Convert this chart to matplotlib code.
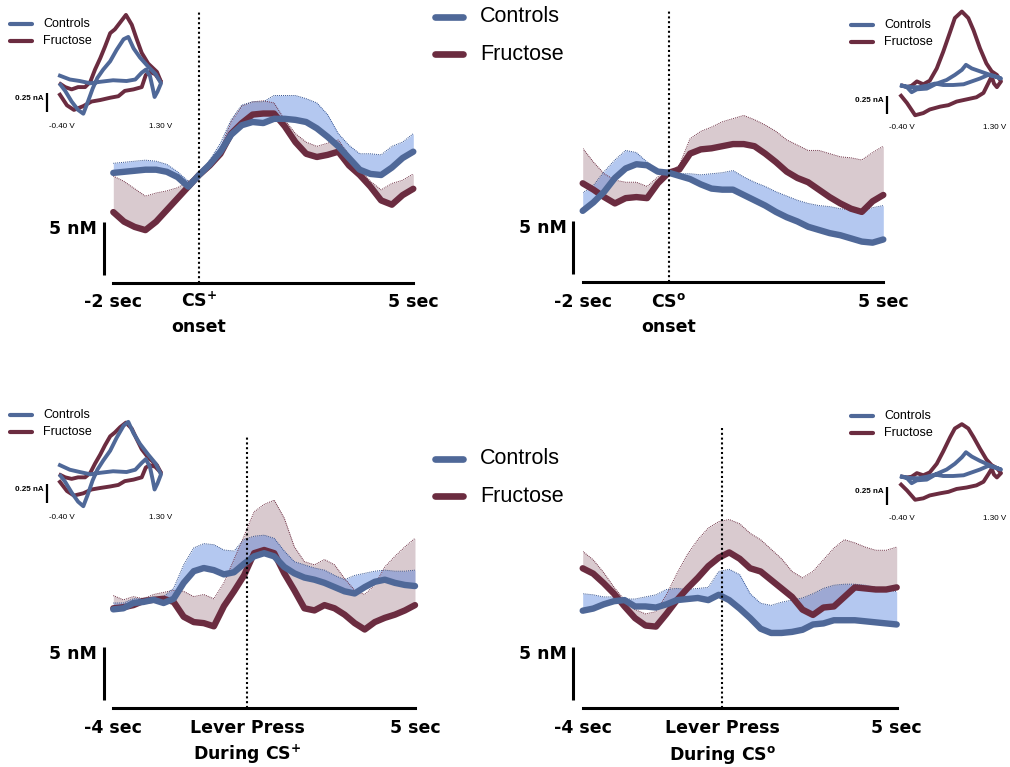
import numpy as np
import matplotlib
matplotlib.use('Agg')
import matplotlib.pyplot as plt
from matplotlib import transforms

# colours
BLUE = '#4F6898'
RED = '#6B2C40'
BLUE_FILL = '#4476DA'
BLUE_EDGE = '#2F4F8F'

# ---------------- data (nM, relative) ----------------
# CS+ onset, -2..5 s
t_top = np.arange(-2, 5.001, 0.25)
csp_ctl = [0.2, 0.3, 0.4, 0.5, 0.5, 0.3, -0.2, -1.1, 0.0, 1.0, 2.2, 3.8, 4.7, 5.0, 4.9,
           5.3, 5.3, 5.2, 5.0, 4.4, 3.6, 2.7, 1.6, 0.5, 0.1, 0.0, 0.7, 1.6, 2.2]
csp_ctl_hi = [1.1, 1.2, 1.3, 1.4, 1.3, 1.0, 0.3, -0.6, 0.0, 1.4, 3.0, 5.2, 6.6, 6.9, 6.9,
              7.5, 7.5, 7.5, 7.2, 6.8, 5.7, 3.9, 2.8, 2.0, 2.0, 1.9, 2.7, 3.1, 3.9]
csp_fru = [-3.5, -4.4, -4.9, -5.2, -4.4, -3.3, -2.2, -1.1, 0.0, 0.9, 2.0, 3.9, 4.9, 5.7, 5.8,
           5.8, 4.6, 3.1, 2.0, 1.7, 1.9, 2.2, 0.9, 0.0, -1.1, -2.4, -2.8, -1.9, -1.3]
csp_fru_hi = [-0.1, -0.6, -1.3, -2.0, -1.7, -1.5, -1.2, -0.6, 0.0, 1.1, 2.5, 5.0, 6.5, 6.9, 7.0,
              6.8, 5.2, 3.9, 3.1, 2.7, 3.0, 3.3, 1.9, 0.5, -0.6, -1.4, -0.8, -0.5, 0.1]

# CSo onset, -2..5 s
cso_ctl = [-3.6, -2.8, -1.8, -0.5, 0.4, 0.8, 0.7, 0.1, 0.0, -0.3, -0.6, -1.1, -1.5, -1.6, -1.6,
           -2.1, -2.6, -3.1, -3.7, -4.2, -4.6, -5.1, -5.4, -5.7, -5.9, -6.2, -6.5, -6.6, -6.3]
cso_ctl_hi = [-1.9, -1.2, 0.1, 1.2, 2.1, 1.9, 1.0, 0.3, 0.1, -0.1, -0.1, -0.2, -0.1, 0.0, 0.2,
              -0.4, -0.9, -1.3, -1.8, -2.2, -2.6, -2.9, -3.1, -3.2, -3.4, -3.5, -3.6, -3.3, -3.1]
cso_fru = [-1.0, -1.6, -2.3, -2.9, -2.4, -2.3, -2.4, -1.0, 0.0, 0.3, 1.8, 2.2, 2.3, 2.5, 2.7,
           2.7, 2.5, 1.8, 1.0, 0.1, -0.5, -0.9, -1.6, -2.3, -2.9, -3.4, -3.7, -2.7, -2.1]
cso_fru_hi = [2.3, 1.0, -0.1, -0.7, -0.9, -0.9, -1.3, -0.4, 0.0, 0.7, 3.2, 3.9, 4.3, 4.8, 5.1,
              5.4, 5.0, 4.5, 3.9, 3.1, 2.6, 2.1, 2.1, 1.8, 1.5, 1.4, 1.2, 1.9, 2.5]

# lever press during CS+, -4..5 s
t_bot = np.arange(-4, 5.001, 0.3)
lpp_ctl = [-0.1, 0.0, 0.5, 0.6, 0.8, 0.5, 0.9, 2.4, 3.5, 3.8, 3.6, 3.2, 3.4, 4.2, 4.9, 5.2,
           4.9, 3.9, 3.3, 2.9, 2.7, 2.4, 2.0, 1.6, 1.4, 2.0, 2.5, 2.7, 2.4, 2.2, 2.1]
lpp_ctl_hi = [0.5, 0.5, 0.9, 0.9, 0.9, 1.1, 1.9, 4.1, 5.7, 6.1, 6.0, 5.5, 5.4, 6.5, 6.8, 6.9,
              6.6, 5.4, 4.4, 4.1, 3.8, 3.6, 3.1, 2.7, 3.1, 3.3, 3.5, 3.6, 3.5, 3.5, 3.6]
lpp_fru = [0.0, 0.1, 0.3, 0.7, 0.8, 0.9, 0.6, -0.8, -1.3, -1.4, -1.7, 0.2, 1.6, 3.1, 5.2, 5.5,
           5.2, 3.3, 1.7, 0.0, -0.2, 0.3, 0.0, -0.6, -1.4, -2.0, -1.3, -0.9, -0.6, -0.2, 0.3]
lpp_fru_hi = [1.2, 0.8, 1.1, 0.9, 1.3, 1.5, 1.7, 1.6, 1.1, 1.3, 0.9, 2.4, 4.6, 6.8, 9.1, 9.8,
              10.2, 8.5, 5.8, 4.4, 4.1, 4.6, 4.1, 2.8, 1.7, 1.3, 2.2, 3.9, 4.9, 5.8, 6.6]

# lever press during CSo, -4..5 s
lpo_ctl = [0.0, 0.2, 0.6, 0.9, 1.0, 0.4, 0.4, 0.3, 0.6, 1.0, 1.1, 1.2, 1.0, 1.5, 1.0, 0.2,
           -0.7, -1.7, -2.1, -2.1, -2.0, -1.8, -1.3, -1.2, -0.9, -0.9, -0.9, -1.0, -1.1, -1.2, -1.3]
lpo_ctl_hi = [1.6, 1.5, 1.3, 1.3, 1.1, 1.1, 1.3, 1.5, 2.0, 2.1, 2.0, 2.1, 2.2, 3.7, 3.9, 3.4,
              1.6, 0.7, 0.5, 0.8, 1.0, 1.2, 1.6, 2.1, 2.4, 2.5, 2.5, 2.4, 2.2, 2.0, 1.8]
lpo_fru = [4.0, 3.5, 2.6, 1.6, 0.4, -0.7, -1.4, -1.5, -0.3, 1.0, 2.1, 3.1, 4.2, 5.0, 5.5, 4.9,
           4.0, 3.7, 2.9, 2.1, 1.3, 0.1, -0.4, 0.3, 0.4, 1.3, 2.2, 2.1, 2.0, 2.0, 2.2]
lpo_fru_hi = [5.6, 4.8, 3.6, 2.2, 1.0, 0.1, -0.3, -0.1, 1.5, 3.5, 5.3, 6.7, 7.8, 8.4, 8.6, 8.2,
              7.3, 6.7, 5.8, 4.9, 3.7, 3.1, 3.7, 4.8, 5.9, 6.7, 6.4, 6.0, 5.7, 5.7, 6.0]

# cyclic voltammograms (V, nA)
cv_tl_ctl_v = [-0.43, -0.26, -0.09, 0.09, 0.26, 0.48, 0.71, 0.86, 0.97, 1.04, 1.11, 1.16, 1.19, 1.24, 1.30, 1.21,
               1.08, 0.94, 0.83, 0.74, 0.66, 0.54, 0.43, 0.31, 0.21, 0.13, 0.04, -0.03, -0.12, -0.23, -0.34, -0.42]
cv_tl_ctl_i = [0.10, 0.05, 0.03, 0.00, 0.02, 0.04, 0.03, 0.05, 0.14, 0.18, 0.10, -0.07, -0.18, -0.11, 0.00, 0.12,
               0.22, 0.34, 0.46, 0.61, 0.58, 0.44, 0.29, 0.18, 0.07, -0.07, -0.26, -0.40, -0.35, -0.24, -0.10, -0.02]
cv_tl_fru_v = [-0.43, -0.31, -0.19, -0.03, 0.11, 0.26, 0.43, 0.57, 0.68, 0.83, 0.97, 1.04, 1.11, 1.20, 1.30, 1.23, 1.08,
               0.97, 0.88, 0.80, 0.70, 0.60, 0.51, 0.43, 0.34, 0.26, 0.17, 0.09, 0.00, -0.12, -0.23, -0.34, -0.42]
cv_tl_fru_i = [-0.15, -0.29, -0.35, -0.30, -0.24, -0.22, -0.19, -0.17, -0.10, -0.08, -0.05, 0.11, 0.15, 0.12, 0.02, 0.15, 0.26,
               0.40, 0.59, 0.77, 0.90, 0.80, 0.71, 0.66, 0.48, 0.33, 0.18, 0.02, -0.05, -0.05, -0.08, -0.05, -0.01]

cv_tr_ctl_v = [-0.40, -0.31, -0.23, -0.14, 0.03, 0.20, 0.37, 0.51, 0.63, 0.70, 0.80, 0.94, 1.08, 1.17, 1.30, 1.23,
               1.08, 0.94, 0.80, 0.66, 0.48, 0.31, 0.17, 0.03, -0.11, -0.23, -0.31, -0.39]
cv_tr_ctl_i = [-0.01, -0.03, -0.10, -0.06, -0.05, 0.02, 0.07, 0.14, 0.21, 0.28, 0.23, 0.19, 0.15, 0.13, 0.09, 0.11,
               0.14, 0.09, 0.05, 0.01, 0.00, 0.00, 0.02, -0.01, -0.03, -0.03, -0.02, -0.01]
cv_tr_fru_v = [-0.41, -0.31, -0.17, -0.03, 0.08, 0.26, 0.40, 0.54, 0.71, 0.88, 1.00, 1.08, 1.14, 1.18, 1.23, 1.30, 1.23,
               1.14, 1.05, 0.94, 0.83, 0.74, 0.63, 0.51, 0.43, 0.31, 0.20, 0.08, -0.03, -0.14, -0.23, -0.31, -0.38]
cv_tr_fru_i = [-0.15, -0.25, -0.42, -0.39, -0.34, -0.30, -0.28, -0.23, -0.20, -0.17, -0.11, 0.02, 0.12, 0.02, -0.03, 0.05, 0.14,
               0.19, 0.30, 0.51, 0.76, 0.93, 1.02, 0.93, 0.74, 0.46, 0.23, 0.06, 0.01, 0.05, -0.01, -0.03, -0.01]

cv_bl_ctl_v = [-0.43, -0.26, -0.09, 0.09, 0.26, 0.48, 0.71, 0.86, 0.97, 1.04, 1.11, 1.16, 1.19, 1.24, 1.30, 1.21,
               1.08, 0.94, 0.83, 0.74, 0.66, 0.54, 0.43, 0.31, 0.21, 0.13, 0.04, -0.03, -0.12, -0.23, -0.34, -0.42]
cv_bl_ctl_i = [0.12, 0.06, 0.03, 0.00, 0.02, 0.04, 0.03, 0.06, 0.15, 0.20, 0.10, -0.08, -0.20, -0.12, 0.00, 0.14,
               0.26, 0.40, 0.54, 0.69, 0.64, 0.48, 0.31, 0.18, 0.06, -0.08, -0.28, -0.42, -0.36, -0.24, -0.10, -0.02]
cv_bl_fru_v = [-0.43, -0.31, -0.19, -0.03, 0.11, 0.26, 0.43, 0.57, 0.68, 0.83, 0.97, 1.04, 1.11, 1.20, 1.30, 1.23, 1.08,
               0.97, 0.88, 0.80, 0.70, 0.60, 0.51, 0.43, 0.34, 0.26, 0.17, 0.09, 0.00, -0.12, -0.23, -0.34, -0.42]
cv_bl_fru_i = [-0.10, -0.22, -0.28, -0.25, -0.20, -0.18, -0.16, -0.14, -0.09, -0.07, -0.04, 0.09, 0.12, 0.10, 0.02, 0.12, 0.22,
               0.33, 0.47, 0.60, 0.68, 0.62, 0.55, 0.50, 0.38, 0.26, 0.14, 0.02, -0.04, -0.04, -0.06, -0.04, -0.01]

cv_br_ctl_v = [-0.40, -0.31, -0.23, -0.14, 0.03, 0.20, 0.37, 0.51, 0.63, 0.70, 0.80, 0.94, 1.08, 1.17, 1.30, 1.23,
               1.08, 0.94, 0.80, 0.66, 0.48, 0.31, 0.17, 0.03, -0.11, -0.23, -0.31, -0.39]
cv_br_ctl_i = [-0.01, -0.03, -0.10, -0.06, -0.05, 0.03, 0.09, 0.17, 0.26, 0.33, 0.27, 0.21, 0.16, 0.13, 0.09, 0.11,
               0.14, 0.09, 0.05, 0.01, 0.00, 0.00, 0.02, -0.01, -0.03, -0.03, -0.02, -0.01]
cv_br_fru_v = [-0.41, -0.31, -0.17, -0.03, 0.08, 0.26, 0.40, 0.54, 0.71, 0.88, 1.00, 1.08, 1.14, 1.18, 1.23, 1.30, 1.23,
               1.14, 1.05, 0.94, 0.83, 0.74, 0.63, 0.51, 0.43, 0.31, 0.20, 0.08, -0.03, -0.14, -0.23, -0.31, -0.38]
cv_br_fru_i = [-0.12, -0.20, -0.33, -0.31, -0.27, -0.24, -0.22, -0.18, -0.16, -0.13, -0.08, 0.02, 0.10, 0.02, -0.02, 0.04, 0.11,
               0.15, 0.23, 0.38, 0.54, 0.66, 0.72, 0.66, 0.54, 0.34, 0.17, 0.05, 0.01, 0.04, -0.01, -0.02, -0.01]

# ---------------- layout helpers ----------------
W, H = 1010, 767
PX_NM = 10.6          # pixels per nM
fig = plt.figure(figsize=(W / 100, H / 100), dpi=100)

ov = fig.add_axes([0, 0, 1, 1])
ov.set_xlim(0, W)
ov.set_ylim(H, 0)
ov.axis('off')

LEG_FONT = 'Liberation Sans'


def px_axes(x0, y0, x1, y1):
    ax = fig.add_axes([x0 / W, 1 - y1 / H, (x1 - x0) / W, (y1 - y0) / H])
    ax.patch.set_visible(False)
    return ax


def panel(x0, x1, y_top, y_axis, y_zero, t, ctl, ctl_hi, fru, fru_hi, ends, mid, gap=18):
    ax = px_axes(x0, y_top, x1, y_axis)
    ax.set_xlim(t[0], t[-1])
    ybot = -(y_axis - y_zero) / PX_NM
    ax.set_ylim(ybot, (y_zero - y_top) / PX_NM)

    ax.fill_between(t, fru, fru_hi, color=RED, alpha=0.25, lw=0)
    ax.plot(t, fru_hi, ls=(0, (1, 1)), color=RED, lw=0.7)
    ax.fill_between(t, ctl, ctl_hi, color=BLUE_FILL, alpha=0.4, lw=0)
    ax.plot(t, ctl_hi, ls=(0, (1, 1)), color=BLUE_EDGE, lw=0.7)
    ax.plot(t, fru, color=RED, lw=4.6, solid_capstyle='round', solid_joinstyle='round', clip_on=False)
    ax.plot(t, ctl, color=BLUE, lw=4.6, solid_capstyle='round', solid_joinstyle='round', clip_on=False)
    ax.axvline(0, color='k', ls=(0, (1, 1.3)), lw=1.5, zorder=5)

    for s in ['top', 'left', 'right']:
        ax.spines[s].set_visible(False)
    ax.spines['bottom'].set_linewidth(2.2)
    ax.set_xticks([])
    ax.set_yticks([])

    # 5 nM scale bar
    tr = transforms.blended_transform_factory(ax.transAxes, ax.transData)
    bx = -9.3 / (x1 - x0)
    lo = ybot + 0.75
    ax.plot([bx, bx], [lo, lo + 5], transform=tr, color='k', lw=2.2,
            solid_capstyle='butt', clip_on=False)
    ax.annotate('5 nM', xy=(bx, lo + 5), xycoords=tr, xytext=(-5, -5), textcoords='offset points',
                ha='right', va='center', fontsize=12.5, fontweight='bold')

    # time labels
    for tx, lab in zip([t[0], t[-1]], ends):
        ax.annotate(lab, xy=(tx, ybot), xytext=(0, -17.5), textcoords='offset points',
                    ha='center', va='baseline', fontsize=12.5, fontweight='bold')
    for k, lab in enumerate(mid):
        ax.annotate(lab, xy=(0, ybot), xytext=(0, -17.5 - k * gap), textcoords='offset points',
                    ha='center', va='baseline', fontsize=12.5, fontweight='bold')
    return ax


def inset(xa, xb, y_zero, px_na, cv, edge=False):
    # xa/xb: pixel columns of -0.40 V and 1.30 V; y_zero: pixel row of 0 nA
    x0, x1, y0, y1 = xa - 20, xb + 8, y_zero - 80, y_zero + 50
    ax = px_axes(x0, y0, x1, y1)
    sx = 1.7 / (xb - xa)
    ax.set_xlim(-0.4 + (x0 - xa) * sx, -0.4 + (x1 - xa) * sx)
    ax.set_ylim((y_zero - y1) / px_na, (y_zero - y0) / px_na)
    ax.axis('off')
    (cv_v, cv_i, fv, fi) = cv
    ax.plot(fv, fi, color=RED, lw=2.8, solid_joinstyle='round', clip_on=False)
    ax.plot(cv_v, cv_i, color=BLUE, lw=2.8, solid_joinstyle='round', clip_on=False)

    # 0.25 nA bar
    bar_v = -0.4 + (-14.7) * sx
    lo = -(29 / px_na)
    ax.plot([bar_v, bar_v], [lo, lo + 0.25], color='k', lw=1.6, clip_on=False, solid_capstyle='butt')
    ax.annotate('0.25 nA', xy=(bar_v, lo + 0.25), xytext=(-2.5, -3.5), textcoords='offset points',
                ha='right', va='center', fontsize=5.8, fontweight='bold', family=LEG_FONT)
    ax.annotate('-0.40 V', xy=(-0.4, lo), xytext=(0, -10), textcoords='offset points',
                ha='center', va='center', fontsize=5.8, family=LEG_FONT)
    if edge:
        ax.annotate('1.30 V', xy=(1.3, lo), xytext=(4, -10), textcoords='offset points',
                    ha='right', va='center', fontsize=5.8, family=LEG_FONT)
    else:
        ax.annotate('1.30 V', xy=(1.3, lo), xytext=(0, -10), textcoords='offset points',
                    ha='center', va='center', fontsize=5.8, family=LEG_FONT)
    return ax


def small_legend(x0, y0):
    for k, (c, lab) in enumerate([(BLUE, 'Controls'), (RED, 'Fructose')]):
        y = y0 + k * 16.8
        ov.plot([x0, x0 + 22], [y, y], color=c, lw=3, solid_capstyle='round')
        ov.text(x0 + 33, y, lab, ha='left', va='center', fontsize=9, family=LEG_FONT)


def big_legend(x0, y0):
    for k, (c, lab) in enumerate([(BLUE, 'Controls'), (RED, 'Fructose')]):
        y = y0 + k * 37
        ov.plot([x0, x0 + 28], [y, y], color=c, lw=4.8, solid_capstyle='round')
        ov.text(x0 + 45, y, lab, ha='left', va='center', fontsize=15.5, family=LEG_FONT)


# ---------------- panels ----------------
panel(113.3, 413.3, 10, 282.7, 175.0, t_top, csp_ctl, csp_ctl_hi, csp_fru, csp_fru_hi,
      ['-2 sec', '5 sec'], [r'CS$^{\mathbf{+}}$', 'onset'])
panel(582.7, 883.3, 10, 282.3, 172.7, t_top, cso_ctl, cso_ctl_hi, cso_fru, cso_fru_hi,
      ['-2 sec', '5 sec'], [r'CS$^{\mathbf{o}}$', 'onset'])
panel(113.3, 415.0, 437, 708.3, 608.3, t_bot, lpp_ctl, lpp_ctl_hi, lpp_fru, lpp_fru_hi,
      ['-4 sec', '5 sec'], ['Lever Press', r'During CS$^{\mathbf{+}}$'], gap=19.5)
panel(582.7, 896.7, 428, 708.3, 610.7, t_bot, lpo_ctl, lpo_ctl_hi, lpo_fru, lpo_fru_hi,
      ['-4 sec', '5 sec'], ['Lever Press', r'During CS$^{\mathbf{o}}$'], gap=19.5)

inset(61.7, 161.0, 83.3, 76, (cv_tl_ctl_v, cv_tl_ctl_i, cv_tl_fru_v, cv_tl_fru_i))
inset(901.7, 1001.0, 85.0, 72, (cv_tr_ctl_v, cv_tr_ctl_i, cv_tr_fru_v, cv_tr_fru_i), edge=True)
inset(61.7, 161.0, 474.3, 76, (cv_bl_ctl_v, cv_bl_ctl_i, cv_bl_fru_v, cv_bl_fru_i))
inset(901.7, 1001.0, 476.0, 72, (cv_br_ctl_v, cv_br_ctl_i, cv_br_fru_v, cv_br_fru_i), edge=True)

small_legend(10, 24)
small_legend(851, 25)
small_legend(10, 415)
small_legend(851, 416)
big_legend(435, 17)
big_legend(435, 459)

fig.savefig('out.png', dpi=100)
